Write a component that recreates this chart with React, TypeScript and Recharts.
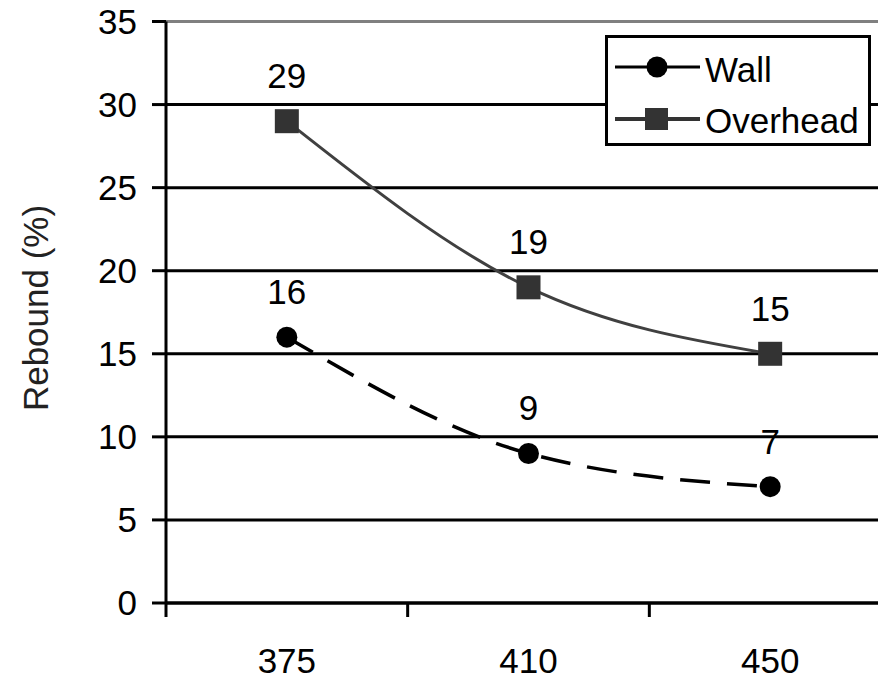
import React from 'react';
import { LineChart, Line, XAxis, YAxis, CartesianGrid, ReferenceLine, LabelList } from 'recharts';

const categories = ['375', '410', '450'];
const wallValues = [16, 9, 7];
const overheadValues = [29, 19, 15];
const yTicks = [0, 5, 10, 15, 20, 25, 30, 35];

const rows = categories.map((c, i) => ({ speed: c, wall: wallValues[i], overhead: overheadValues[i] }));

const CHART_W = 900;
const CHART_H = 679;
const LEFT = 166;
const RIGHT = 9;
const TOP = 21.5;
const BOTTOM = 76;
const BAND = (CHART_W - LEFT - RIGHT) / categories.length;
const FONT = '"Liberation Sans", Arial, sans-serif';

// label at the category centre, tick mark at its left boundary
const XTick = (props: any) => {
  const { x, y, payload } = props;
  const edge = x - BAND / 2;
  return (
    <g>
      <line x1={edge} x2={edge} y1={y} y2={y + 14} stroke="#000" strokeWidth={3} />
      <text x={x} y={y + 70} textAnchor="middle" fontSize={35} fill="#000" fontFamily={FONT}>
        {payload.value}
      </text>
    </g>
  );
};

const SquareDot = (props: any) => {
  const { cx, cy } = props;
  return <rect x={cx - 12} y={cy - 12} width={24} height={24} fill="#333" />;
};

const RoundDot = (props: any) => {
  const { cx, cy } = props;
  return <circle cx={cx} cy={cy} r={10.5} fill="#000" />;
};

const LegendBox = () => (
  <svg width={266} height={112} style={{ position: 'absolute', left: 605, top: 35 }}>
    <rect x={1.5} y={1.5} width={263} height={108} fill="#fff" stroke="#000" strokeWidth={3} />
    <line x1={10} x2={95} y1={32} y2={32} stroke="#000" strokeWidth={3} />
    <circle cx={52} cy={32} r={10.5} fill="#000" />
    <text x={100} y={47} fontSize={35} fontFamily={FONT} fill="#000">Wall</text>
    <line x1={10} x2={95} y1={84} y2={84} stroke="#333" strokeWidth={4} />
    <rect x={40} y={73} width={23} height={22} fill="#333" />
    <text x={100} y={98} fontSize={35} fontFamily={FONT} fill="#000">Overhead</text>
  </svg>
);

export default function App() {
  return (
    <div style={{ position: 'absolute', left: 0, top: 0, width: 878, height: 679, overflow: 'hidden', background: '#fff' }}>
      <LineChart width={CHART_W} height={CHART_H} data={rows} margin={{ top: TOP, right: RIGHT, bottom: 0, left: 0 }}>
        <CartesianGrid horizontal vertical={false} stroke="#000" strokeWidth={3} />
        <ReferenceLine y={35} stroke="#808080" strokeWidth={3} />
        <XAxis
          dataKey="speed"
          height={BOTTOM}
          padding={{ left: BAND / 2, right: BAND / 2 }}
          axisLine={{ stroke: '#000', strokeWidth: 3 }}
          tickLine={false}
          tickSize={0}
          tickMargin={0}
          tick={<XTick />}
          interval={0}
        />
        <YAxis
          width={LEFT}
          domain={[0, 35]}
          ticks={yTicks}
          interval={0}
          axisLine={{ stroke: '#000', strokeWidth: 3 }}
          tickLine={{ stroke: '#000', strokeWidth: 3 }}
          tickSize={14}
          tickMargin={15}
          tick={{ fontSize: 35, fill: '#000', fontFamily: FONT }}
          label={{
            content: () => (
              <text x={0} y={0} transform="translate(48,308) rotate(-90)" textAnchor="middle" fontSize={35} fill="#222" fontFamily={FONT}>
                Rebound (%)
              </text>
            ),
          }}
        />
        <Line
          type="monotone"
          dataKey="overhead"
          stroke="#404040"
          strokeWidth={3}
          dot={<SquareDot />}
          isAnimationActive={false}
        >
          <LabelList dataKey="overhead" position="top" offset={33} fontSize={35} fill="#000" fontFamily={FONT} />
        </Line>
        <Line
          type="monotone"
          dataKey="wall"
          stroke="#000"
          strokeWidth={3.5}
          strokeDasharray="30 17"
          dot={<RoundDot />}
          isAnimationActive={false}
        >
          <LabelList dataKey="wall" position="top" offset={33} fontSize={35} fill="#000" fontFamily={FONT} />
        </Line>
      </LineChart>
      <LegendBox />
    </div>
  );
}
